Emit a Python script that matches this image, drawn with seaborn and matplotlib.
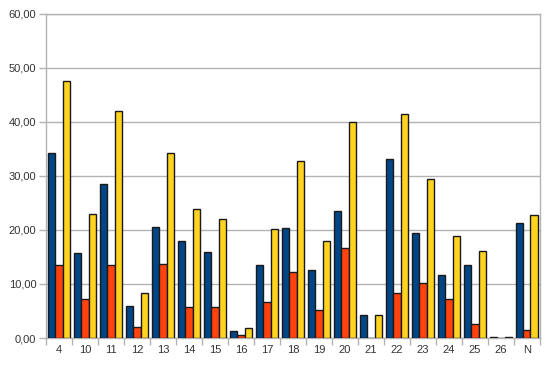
import matplotlib
matplotlib.use("Agg")
import matplotlib.pyplot as plt
import seaborn as sns
import pandas as pd
from matplotlib.ticker import FuncFormatter, FixedLocator

categories = ["4", "10", "11", "12", "13", "14", "15", "16", "17", "18",
              "19", "20", "21", "22", "23", "24", "25", "26", "N"]
series_a = [34.2, 15.7, 28.5, 6.0, 20.5, 18.0, 16.0, 1.3, 13.6, 20.3,
            12.5, 23.5, 4.2, 33.2, 19.4, 11.6, 13.5, 0.1, 21.3]
series_b = [13.5, 7.3, 13.5, 2.0, 13.7, 5.8, 5.8, 0.5, 6.6, 12.3,
            5.2, 16.7, 0.0, 8.3, 10.2, 7.2, 2.6, 0.05, 1.4]
series_c = [47.5, 23.0, 42.0, 8.3, 34.3, 23.8, 22.0, 1.9, 20.2, 32.7,
            18.0, 40.0, 4.2, 41.5, 29.4, 18.9, 16.1, 0.2, 22.7]
series_names = ["A", "B", "C"]
colors = ["#004586", "#ff420e", "#ffd320"]

rows = []
for name, vals in zip(series_names, [series_a, series_b, series_c]):
    for c, v in zip(categories, vals):
        rows.append({"cat": c, "series": name, "value": v})
df = pd.DataFrame(rows)

sns.set_theme(style="white")
plt.rcParams['font.family'] = ['Liberation Sans', 'DejaVu Sans']

fig = plt.figure(figsize=(5.52, 3.66), dpi=100)
ax = fig.add_axes([0.0833, 0.0765, 0.8947, 0.8855])

sns.barplot(data=df, x="cat", y="value", hue="series", order=categories,
            hue_order=series_names, palette=colors, width=0.84, gap=0,
            saturation=1, edgecolor="#1a1a1a", linewidth=1.0, errorbar=None,
            ax=ax, legend=False, zorder=3)

ax.set_ylim(0, 60)
ax.set_xlim(-0.5, len(categories) - 0.5)
ax.set_yticks([0, 10, 20, 30, 40, 50, 60])
ax.yaxis.set_major_formatter(FuncFormatter(lambda v, p: f"{v:.2f}".replace(".", ",")))
ax.yaxis.grid(True, color="#b3b3b3", linewidth=1.0, zorder=0)
ax.set_axisbelow(True)
ax.set_xlabel("")
ax.set_ylabel("")

for s in ax.spines.values():
    s.set_color("#b3b3b3")
    s.set_linewidth(1.0)

ax.tick_params(axis="y", which="major", length=5, color="#b3b3b3", width=1.0,
               labelsize=8, labelcolor="#333333", left=True, pad=2)
ax.tick_params(axis="x", which="major", length=0, labelsize=8,
               labelcolor="#333333", pad=5)
ax.xaxis.set_minor_locator(FixedLocator([i - 0.5 for i in range(len(categories) + 1)]))
ax.tick_params(axis="x", which="minor", length=5, color="#b3b3b3", width=1.0,
               bottom=True)

fig.savefig("out.png", dpi=100)
